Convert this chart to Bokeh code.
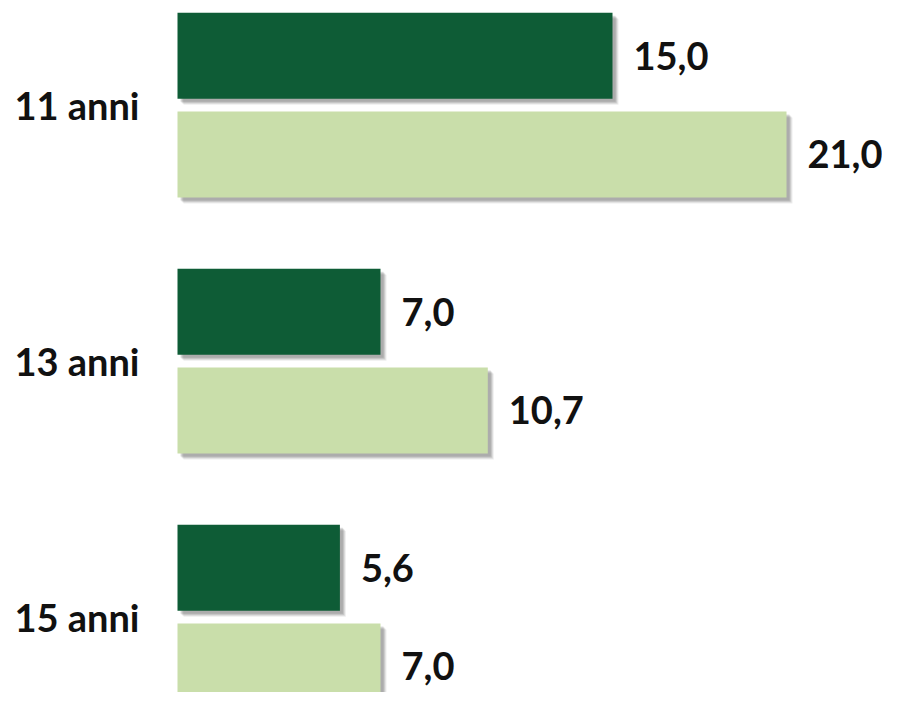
from bokeh.plotting import figure
from bokeh.models import ColumnDataSource, Range1d
from bokeh.core.properties import value
from bokeh.embed import file_html
from bokeh.resources import INLINE

# data
categories = ["11 anni", "13 anni", "15 anni"]
series_dark = [15.0, 7.0, 5.6]
series_light = [21.0, 10.7, 7.0]
labels_dark = ["15,0", "7,0", "5,6"]
labels_light = ["21,0", "10,7", "7,0"]

DARK = "#0E5C36"
LIGHT = "#C9DEAA"
FONT = "Lato"
FSIZE = "38px"

W, H = 882, 692
px_x = 29.0      # px per unit (x)
px_y = 256.0     # px per group (y)
x0_px = 177      # bar start pixel
g0_px = 104      # first group centre pixel

grp = list(range(len(categories)))
off_dark, off_light = -0.19, 0.195
bh = 0.336

p = figure(width=W, height=H, output_backend="svg", toolbar_location=None,
           x_range=Range1d(-x0_px / px_x, (W - x0_px) / px_x),
           y_range=Range1d((H - g0_px) / px_y, -g0_px / px_y),
           min_border=0, outline_line_color=None)
p.axis.visible = False
p.grid.visible = False
p.background_fill_color = "white"
p.border_fill_color = "white"

yd = [g + off_dark for g in grp]
yl = [g + off_light for g in grp]

# soft shadows (layered)
for sx, sy, a in [(6, 6, 0.10), (5, 5, 0.14), (4, 4, 0.18), (3, 3, 0.18)]:
    dx = sx / px_x
    dy = sy / px_y
    p.hbar(y=[v + dy for v in yd], left=dx, right=[v + dx for v in series_dark],
           height=bh, color="#555555", alpha=a, line_color=None)
    p.hbar(y=[v + dy for v in yl], left=dx, right=[v + dx for v in series_light],
           height=bh, color="#555555", alpha=a, line_color=None)

p.hbar(y=yd, left=0, right=series_dark, height=bh, color=DARK, line_color=None)
p.hbar(y=yl, left=0, right=series_light, height=bh, color=LIGHT, line_color=None)

src_d = ColumnDataSource(dict(x=series_dark, y=yd, t=labels_dark))
src_l = ColumnDataSource(dict(x=series_light, y=yl, t=labels_light))
for s in (src_d, src_l):
    p.text(x="x", y="y", text="t", source=s, x_offset=21, text_align="left",
           text_baseline="middle", text_font=value(FONT), text_font_size=FSIZE,
           text_font_style="bold", text_color="#111111")

src_c = ColumnDataSource(dict(x=[0] * len(categories), y=grp, t=categories))
p.text(x="x", y="y", text="t", source=src_c, x_offset=-38, text_align="right",
       text_baseline="middle", text_font=value(FONT), text_font_size=FSIZE,
       text_font_style="bold", text_color="#111111")

open("out.html", "w").write(file_html(p, INLINE))
